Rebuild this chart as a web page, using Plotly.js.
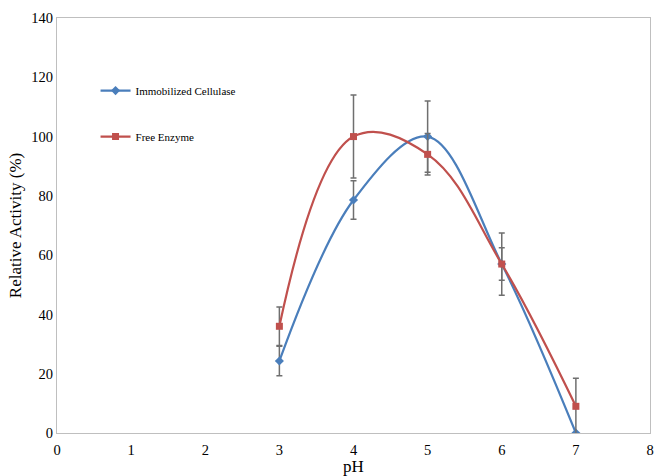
<!DOCTYPE html>
<html>
<head>
<meta charset="utf-8">
<script src="https://cdn.plot.ly/plotly-3.0.1.min.js"></script>
<style>html,body{margin:0;padding:0;background:#fff;}#chart{width:655px;height:476px;}</style>
</head>
<body>
<div id="chart"></div>
<script>
const pH = [3, 4, 5, 6, 7];
const immobilized = [24.3, 78.6, 100, 57, 0];
const immobilizedErr = [5, 6.5, 12, 5.5, 0];
const freeEnzyme = [36, 100, 94, 57, 9];
const freeEnzymeErr = [6.5, 14, 7, 10.5, 9.5];
const xTicks = [0, 1, 2, 3, 4, 5, 6, 7, 8];
const yTicks = [0, 20, 40, 60, 80, 100, 120, 140];

const serif = '"Liberation Serif", "Times New Roman", serif';
const errStyle = {type: 'data', visible: true, color: '#6f6f6f', thickness: 1.5, width: 3};

const traces = [
  {
    x: pH, y: immobilized, name: 'Immobilized Cellulase', mode: 'lines+markers',
    type: 'scatter', legendgroup: 'a',
    line: {color: '#4a7ebb', width: 2.2, shape: 'spline', smoothing: 1.0},
    marker: {symbol: 'diamond', size: 7, color: '#4a7ebb'},
    error_y: Object.assign({array: immobilizedErr}, errStyle)
  },
  {
    x: pH, y: freeEnzyme, name: 'Free Enzyme', mode: 'lines+markers',
    type: 'scatter', legendgroup: 'b',
    line: {color: '#c0504d', width: 2.2, shape: 'spline', smoothing: 1.1},
    marker: {symbol: 'square', size: 7, color: '#c0504d'},
    error_y: Object.assign({array: freeEnzymeErr}, errStyle)
  }
];

const layout = {
  width: 655, height: 476,
  margin: {l: 57, r: 5, t: 18, b: 43},
  paper_bgcolor: '#fff', plot_bgcolor: '#fff',
  font: {family: serif, size: 14, color: '#000'},
  showlegend: true,
  legend: {
    x: 0.065, y: 0.86, xanchor: 'left', yanchor: 'top',
    bgcolor: 'rgba(0,0,0,0)', font: {family: serif, size: 11, color: '#000'},
    tracegroupgap: 27, itemwidth: 30, traceorder: 'grouped'
  },
  xaxis: {
    range: [0, 8], tickvals: xTicks, ticktext: xTicks.map(String),
    showgrid: false, zeroline: false, showline: true, mirror: true,
    linecolor: '#bfbfbf', linewidth: 1, ticks: '', ticklabelstandoff: 4,
    tickfont: {family: serif, size: 14.5},
    title: {text: 'pH', font: {family: serif, size: 17}, standoff: 0}
  },
  yaxis: {
    range: [0, 140], tickvals: yTicks, ticktext: yTicks.map(String),
    showgrid: false, zeroline: false, showline: true, mirror: true,
    linecolor: '#bfbfbf', linewidth: 1, ticks: '',
    tickfont: {family: serif, size: 14.5},
    title: {text: 'Relative Activity (%)', font: {family: serif, size: 17}, standoff: 5}
  }
};

Plotly.newPlot('chart', traces, layout, {displayModeBar: false, staticPlot: true});
</script>
</body>
</html>
